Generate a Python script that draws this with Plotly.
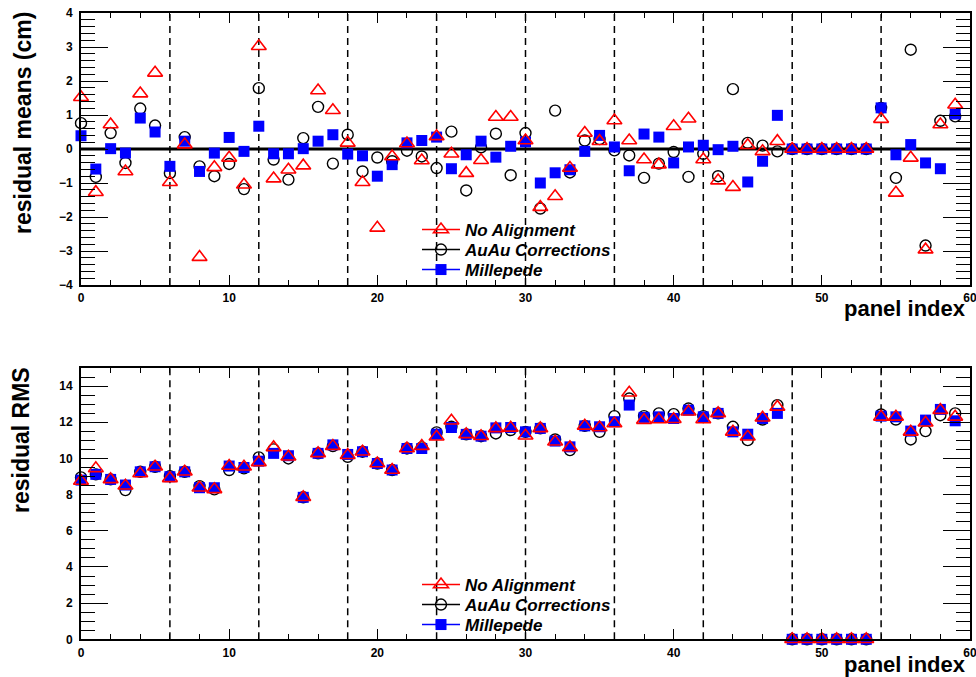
import plotly.graph_objects as go

panel = list(range(60))

mean_noalign = [1.52, -1.27, 0.72, -0.66, 1.63, 2.24, -0.98, 0.13, -3.18, -0.54,
                -0.26, -1.05, 3.02, -0.87, -0.61, -0.49, 1.72, 1.14, 0.18, -0.98,
                -2.32, -0.22, 0.16, -0.34, 0.37, -0.14, -0.71, -0.33, 0.94, 0.94,
                0.25, -1.71, -1.39, -0.56, 0.47, 0.23, 0.84, 0.25, -0.31, -0.46,
                0.67, 0.89, -0.31, -0.93, -1.12, 0.11, -0.07, 0.23, 0, 0,
                0, 0, 0, 0, 0.88, -1.29, -0.26, -2.96, 0.72, 1.30]
mean_auau = [0.76, -0.82, 0.47, -0.41, 1.19, 0.69, -0.71, 0.35, -0.51, -0.80,
             -0.44, -1.18, 1.79, -0.31, -0.90, 0.32, 1.24, -0.43, 0.42, -0.66,
             -0.25, -0.36, -0.05, -0.22, -0.56, 0.51, -1.22, 0.05, 0.45, -0.77,
             0.47, -1.75, 1.13, -0.69, 0.25, 0.29, -0.04, -0.19, -0.85, -0.43,
             -0.09, -0.82, -0.14, -0.80, 1.76, 0.18, 0.10, -0.07, 0, 0,
             0, 0, 0, 0, 1.21, -0.85, 2.92, -2.84, 0.83, 0.96]
mean_mille = [0.39, -0.59, 0.01, -0.12, 0.91, 0.50, -0.51, 0.23, -0.66, -0.12,
              0.34, -0.07, 0.67, -0.14, -0.14, 0.01, 0.23, 0.42, -0.15, -0.20,
              -0.80, -0.46, 0.18, 0.25, 0.35, -0.58, -0.17, 0.23, -0.24, 0.08,
              0.21, -1.00, -0.70, -0.61, -0.07, 0.40, 0.06, -0.64, 0.44, 0.35,
              -0.41, 0.06, 0.11, -0.02, 0.08, -0.97, -0.36, 0.99, 0, 0,
              0, 0, 0, 0, 1.21, -0.17, 0.13, -0.41, -0.58, 1.03]

rms_noalign = [8.75, 9.45, 8.84, 8.49, 9.17, 9.54, 8.90, 9.26, 8.38, 8.29,
               9.58, 9.54, 9.78, 10.61, 10.09, 7.85, 10.28, 10.68, 10.18, 10.37,
               9.72, 9.36, 10.55, 10.68, 11.20, 12.08, 11.33, 11.23, 11.66, 11.69,
               11.25, 11.66, 10.92, 10.61, 11.80, 11.71, 11.93, 13.63, 12.12, 12.15,
               12.17, 12.58, 12.15, 12.49, 11.47, 11.20, 12.25, 12.85, 0, 0,
               0, 0, 0, 0, 12.30, 12.30, 11.47, 11.97, 12.67, 12.30]
rms_auau = [8.95, 9.12, 8.84, 8.25, 9.26, 9.54, 9.02, 9.26, 8.47, 8.29,
            9.36, 9.45, 10.06, 10.50, 10.00, 7.85, 10.28, 10.68, 10.09, 10.37,
            9.72, 9.36, 10.55, 10.61, 11.44, 11.75, 11.33, 11.23, 11.38, 11.57,
            11.47, 11.66, 11.05, 10.46, 11.80, 11.47, 12.34, 13.31, 12.34, 12.49,
            12.45, 12.76, 12.34, 12.49, 11.75, 11.01, 12.15, 12.95, 0, 0,
            0, 0, 0, 0, 12.43, 12.15, 11.05, 11.51, 12.39, 12.49]
rms_mille = [8.80, 9.12, 8.84, 8.53, 9.26, 9.54, 8.99, 9.26, 8.38, 8.38,
             9.58, 9.50, 9.85, 10.28, 10.15, 7.85, 10.28, 10.75, 10.22, 10.37,
             9.72, 9.36, 10.55, 10.55, 11.34, 11.71, 11.33, 11.23, 11.69, 11.71,
             11.47, 11.66, 10.96, 10.64, 11.80, 11.75, 12.03, 12.95, 12.27, 12.30,
             12.21, 12.67, 12.30, 12.49, 11.47, 11.34, 12.21, 12.49, 0, 0,
             0, 0, 0, 0, 12.34, 12.30, 11.51, 12.12, 12.71, 12.08]

boundaries = [6, 12, 18, 24, 30, 36, 42, 48, 54]
x_ticks = [0, 10, 20, 30, 40, 50, 60]
series_names = ["No Alignment", "AuAu Corrections", "Millepede"]

FONT = "Liberation Sans, Arial, sans-serif"
W, H = 976, 677

styles = {
    "No Alignment": dict(symbol="triangle-up-open", size=13, color="#ff0000",
                         line=dict(color="#ff0000", width=1.6)),
    "AuAu Corrections": dict(symbol="circle-open", size=11, color="black",
                             line=dict(color="black", width=1.4)),
    "Millepede": dict(symbol="square", size=11, color="#0000ff",
                      line=dict(width=0)),
}
line_col = {"No Alignment": "#ff0000", "AuAu Corrections": "black", "Millepede": "#0000ff"}

fig = go.Figure()

top_data = {"No Alignment": mean_noalign, "AuAu Corrections": mean_auau, "Millepede": mean_mille}
bot_data = {"No Alignment": rms_noalign, "AuAu Corrections": rms_auau, "Millepede": rms_mille}

draw_order = ["AuAu Corrections", "Millepede", "No Alignment"]
for name in draw_order:
    fig.add_trace(go.Scatter(x=panel, y=top_data[name], mode="markers", marker=styles[name],
                             xaxis="x", yaxis="y", showlegend=False, cliponaxis=False,
                             name=name))
    fig.add_trace(go.Scatter(x=panel, y=bot_data[name], mode="markers", marker=styles[name],
                             xaxis="x2", yaxis="y2", showlegend=False, cliponaxis=False,
                             name=name))

leg_font = dict(family=FONT, size=17, color="black", weight="bold", style="italic")

# one legend per row so the row spacing matches the original
legend_rows = {
    ("x", "y"): [230, 250, 270],
    ("x2", "y2"): [585, 605, 625],
}
legend_layout = {}
k = 0
for (xa, ya), rows in legend_rows.items():
    for name, yrow in zip(series_names, rows):
        k += 1
        lg = "legend" if k == 1 else f"legend{k}"
        fig.add_trace(go.Scatter(x=[None], y=[None], mode="lines+markers", name=name,
                                 marker=styles[name], line=dict(color=line_col[name], width=1.5),
                                 xaxis=xa, yaxis=ya, legend=lg, showlegend=True))
        legend_layout[lg] = dict(x=417 / W, y=1 - yrow / H, xanchor="left", yanchor="middle",
                                 bgcolor="rgba(0,0,0,0)", borderwidth=0, font=leg_font,
                                 itemwidth=38)

xdom = [81 / W, 970 / W]
ydom_top = [1 - 285 / H, 1 - 13 / H]
ydom_bot = [1 - 639.3 / H, 1 - 368 / H]

tickfont = dict(family=FONT, size=12, color="black", weight="bold")

def xaxis_cfg(anchor):
    return dict(domain=xdom, anchor=anchor, range=[0, 60], tickvals=x_ticks,
                ticks="inside", ticklen=10, tickwidth=1.3, tickcolor="black",
                minor=dict(dtick=2, ticks="inside", ticklen=5, tickwidth=1.3, tickcolor="black"),
                showline=True, linecolor="black", linewidth=2, mirror="allticks",
                showgrid=False, zeroline=False, tickfont=tickfont, ticklabelstandoff=1,
                automargin=False, ticklabeloverflow="allow")

def yaxis_cfg(anchor, dom, rng, dtick, mdtick):
    return dict(domain=dom, anchor=anchor, range=rng, dtick=dtick, tick0=0,
                ticks="inside", ticklen=27, tickwidth=1.3, tickcolor="black",
                minor=dict(dtick=mdtick, ticks="inside", ticklen=14, tickwidth=1.3, tickcolor="black"),
                showline=True, linecolor="black", linewidth=2, mirror="allticks",
                showgrid=False, zeroline=False, tickfont=tickfont, ticklabelstandoff=4,
                automargin=False, ticklabeloverflow="allow")

shapes = []
for xr, yr in [("x", "y domain"), ("x2", "y2 domain")]:
    for b in boundaries:
        shapes.append(dict(type="line", xref=xr, yref=yr, x0=b, x1=b, y0=0, y1=1,
                           line=dict(color="black", width=1.5, dash="7px,5px"), layer="below"))
shapes.append(dict(type="line", xref="x domain", yref="y", x0=0, x1=1, y0=0, y1=0,
                   line=dict(color="black", width=3), layer="below"))

title_font = dict(family=FONT, size=23, color="black", weight="bold")
xtitle_font = dict(family=FONT, size=22, color="black", weight="bold")

annotations = [
    dict(text="residual means (cm)", xref="paper", yref="paper", x=23 / W, y=1 - 123 / H,
         textangle=-90, showarrow=False, font=title_font, xanchor="center", yanchor="middle"),
    dict(text="residual RMS", xref="paper", yref="paper", x=21 / W, y=1 - 440 / H,
         textangle=-90, showarrow=False, font=title_font, xanchor="center", yanchor="middle"),
    dict(text="panel index", xref="paper", yref="paper", x=968 / W, y=1 - 309 / H,
         showarrow=False, font=xtitle_font, xanchor="right", yanchor="middle"),
    dict(text="panel index", xref="paper", yref="paper", x=968 / W, y=1 - 664 / H,
         showarrow=False, font=xtitle_font, xanchor="right", yanchor="middle"),
]

fig.update_layout(
    width=W, height=H,
    margin=dict(l=0, r=0, t=0, b=0, pad=0, autoexpand=False),
    paper_bgcolor="white", plot_bgcolor="white",
    font=dict(family=FONT, color="black"),
    xaxis=xaxis_cfg("y"),
    yaxis=yaxis_cfg("x", ydom_top, [-4, 4], 1, 0.2),
    xaxis2=xaxis_cfg("y2"),
    yaxis2=yaxis_cfg("x2", ydom_bot, [0, 15], 2, 0.5),
    shapes=shapes,
    annotations=annotations,
    showlegend=True,
    **legend_layout,
)

fig.write_html("out.html", config={"displayModeBar": False},
               post_script="document.body.style.margin='0px';document.body.style.padding='0px';")
